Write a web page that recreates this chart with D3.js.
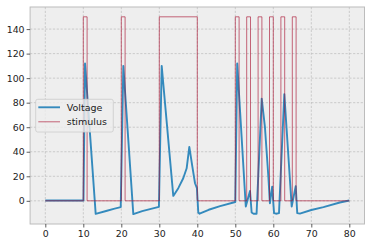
<!DOCTYPE html>
<html><head><meta charset="utf-8">
<script src="https://cdn.jsdelivr.net/npm/d3@7"></script>
<style>
html,body{margin:0;padding:0;background:#fff;}
svg{display:block;font-family:"DejaVu Sans",sans-serif;}
</style></head>
<body><svg id="chart" width="371" height="245"></svg>
<script>
// ---- data ----
const voltageT = [0,10.05,10.45,13.26,16,18,19.85,20.53,23.16,25.5,27.8,29.9,30.63,33.68,35.0,36.3,37.2,37.9,38.7,39.4,39.9,40.26,40.6,43,46,50.0,50.5,52.76,53.87,54.3,54.8,55.6,56.95,57.8,58.7,59.1,59.7,60.2,60.7,61.5,62.9,64.84,65.9,66.3,67.0,70,73.2,77.5,80];
const voltageV = [0.3,0.3,112,-10.6,-8.3,-6.6,-5.2,110,-10.8,-8.4,-6.6,-5.0,110,4,10.3,18.4,26.5,44,27.8,14.3,10.3,-9.5,-10.5,-7.3,-4.3,-1.0,112,-4.6,8,-9.5,-10.5,-10.5,83.3,60,19.8,-2,11.5,-10,-10.5,-10,87,-4.6,12,-10,-10.4,-7.5,-5.1,-1.4,0.3];
const stimStart = [10,20,30,50,53,56,59,62,65];
const stimEnd   = [11,21,40,51,54,57,60,63,66];
const stimHigh = 150;
const xTicks = [0,10,20,30,40,50,60,70,80];
const yTicks = [0,20,40,60,80,100,120,140];
const seriesNames = ["Voltage","stimulus"];

// stimulus step series
const stimPts = [[0,0]];
stimStart.forEach((s,i)=>{
  stimPts.push([s,0],[s,stimHigh],[stimEnd[i],stimHigh],[stimEnd[i],0]);
});
stimPts.push([80,0]);

const svg = d3.select("#chart");
const L = 30.1, R = 364.5, T = 7, B = 224;
const x = d3.scaleLinear().domain([-4,84]).range([L,R]);
const y = d3.scaleLinear().domain([-18.9,158]).range([B,T]);

svg.append("rect").attr("x",L).attr("y",T).attr("width",R-L).attr("height",B-T).attr("fill","#eeeeee");

// grid
const g = svg.append("g");
g.selectAll(".gx").data(xTicks).enter().append("line")
  .attr("x1",d=>x(d)).attr("x2",d=>x(d)).attr("y1",T).attr("y2",B)
  .attr("stroke","#b2b2b2").attr("stroke-width",0.6).attr("stroke-dasharray","2.2,1.6");
g.selectAll(".gy").data(yTicks).enter().append("line")
  .attr("x1",L).attr("x2",R).attr("y1",d=>y(d)).attr("y2",d=>y(d))
  .attr("stroke","#b2b2b2").attr("stroke-width",0.6).attr("stroke-dasharray","2.2,1.6");

// lines
const vData = voltageT.map((t,i)=>[t,voltageV[i]]);
const line = d3.line().x(d=>x(d[0])).y(d=>y(d[1]));
svg.append("path").attr("d",line(vData)).attr("fill","none")
  .attr("stroke","#348ABD").attr("stroke-width",1.9).attr("stroke-linejoin","round");
svg.append("path").attr("d",line(stimPts)).attr("fill","none")
  .attr("stroke","#A60628").attr("stroke-opacity",0.6).attr("stroke-width",1);

// frame
svg.append("rect").attr("x",L).attr("y",T).attr("width",R-L).attr("height",B-T)
  .attr("fill","none").attr("stroke","#bcbcbc").attr("stroke-width",1);

// axes
const xAxis = d3.axisBottom(x).tickValues(xTicks).tickSize(3.5).tickPadding(3);
const yAxis = d3.axisLeft(y).tickValues(yTicks).tickSize(3.5).tickPadding(2);
const gx = svg.append("g").attr("transform",`translate(0,${B})`).call(xAxis);
const gy = svg.append("g").attr("transform",`translate(${L},0)`).call(yAxis);
[gx,gy].forEach(a=>{
  a.select(".domain").remove();
  a.selectAll(".tick line").attr("stroke","#333").attr("stroke-width",0.8);
  a.selectAll(".tick text").attr("fill","#222").style("font-size","9.4px").style("font-family","'DejaVu Sans',sans-serif");
});

// legend
const lg = svg.append("g");
lg.append("rect").attr("x",35.7).attr("y",99.3).attr("width",77.6).attr("height",32.7).attr("rx",2)
  .attr("fill","#eeeeee").attr("fill-opacity",0.8).attr("stroke","#cccccc").attr("stroke-width",0.8);
const legStyles = [{c:"#348ABD",w:1.9,o:1},{c:"#A60628",w:1,o:0.6}];
seriesNames.forEach((n,i)=>{
  const yy = 107.3 + i*14.5;
  lg.append("line").attr("x1",38.3).attr("x2",60).attr("y1",yy).attr("y2",yy)
    .attr("stroke",legStyles[i].c).attr("stroke-width",legStyles[i].w).attr("stroke-opacity",legStyles[i].o);
  lg.append("text").attr("x",66.7).attr("y",yy+3.4).text(n)
    .attr("fill","#222").style("font-size","9.5px");
});
</script></body></html>
